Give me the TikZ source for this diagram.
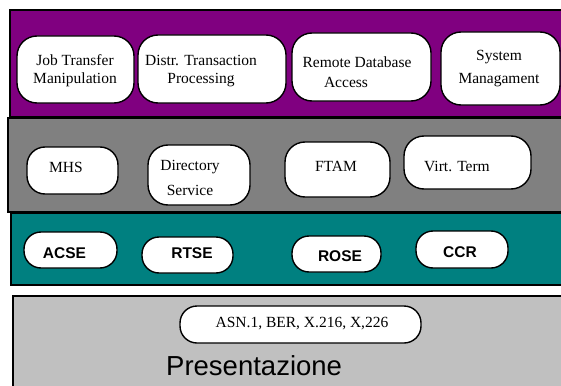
\documentclass[tikz,border=0pt]{standalone}
\usepackage{fontspec}
\setmainfont{Liberation Serif}
\setsansfont{Liberation Sans}
\definecolor{bandpurple}{HTML}{800080}
\definecolor{bandgray}{HTML}{808080}
\definecolor{bandteal}{HTML}{008080}
\definecolor{bandlight}{HTML}{C0C0C0}
\begin{document}
\begin{tikzpicture}[x=1pt,y=-1pt,
  band/.style={draw=black,line width=1.5pt},
  rbox/.style={draw=black,fill=white,line width=1.4pt,rounded corners=20pt,inner sep=0pt},
  pill/.style={draw=black,fill=white,line width=1.4pt,rounded corners=17pt,inner sep=0pt},
  serif/.style={inner sep=0pt,align=center,font=\fontsize{15.5}{18}\selectfont},
  sansb/.style={inner sep=0pt,font=\sffamily\bfseries\fontsize{15.5}{18}\selectfont}]
\useasboundingbox (0,0) rectangle (561,385);
\fill[white] (0,0) rectangle (561,385);

% protocol layers
\draw[band,fill=bandpurple] (10,10) rectangle (575,117);
\draw[band,fill=bandgray] (8,118) rectangle (575,212);
\draw[band,fill=bandteal] (11,213) rectangle (575,285);
\draw[band,fill=bandlight] (13,296) rectangle (575,400);

% application services
\node[rbox,minimum width=117pt,minimum height=67pt] (job) at (75.5,69.5) {};
\node[rbox,minimum width=148pt,minimum height=68pt] (dtp) at (212,69) {};
\node[rbox,minimum width=139pt,minimum height=68pt] (rda) at (361.5,67) {};
\node[rbox,minimum width=119pt,minimum height=73pt] (sm) at (500.5,68.5) {};
\node[serif] (jobt) at (75,71) {Job Transfer\\Manipulation};
\node[serif] (dtpt) at (201,71) {Distr. Transaction\\Processing};
\node[serif,font=\fontsize{15.5}{20}\selectfont] (rdat) at (357,72) {Remote Database\\Access\hspace*{22pt}};
\node[serif,font=\fontsize{15.5}{23}\selectfont] (smt) at (499,69) {System\\Managament};

% specific services
\node[rbox,rounded corners=18pt,minimum width=91pt,minimum height=47pt] (mhs) at (72.5,170.5) {};
\node[rbox,minimum width=102pt,minimum height=60pt] (ds) at (199,175) {};
\node[rbox,minimum width=105pt,minimum height=55pt] (ftam) at (337.5,169.5) {};
\node[rbox,minimum width=127pt,minimum height=53pt] (vt) at (467.5,162.5) {};
\node[serif] (mhst) at (66,167) {MHS};
\node[serif,font=\fontsize{15.5}{25}\selectfont] (dst) at (190,177.5) {Directory\\Service};
\node[serif] (ftamt) at (336,166) {FTAM};
\node[serif] (vtt) at (457,166) {Virt. Term};

% common service elements
\node[pill,minimum width=93pt,minimum height=36pt] (acse) at (70.5,250) {};
\node[pill,minimum width=91pt,minimum height=36pt] (rtse) at (187.5,255) {};
\node[pill,minimum width=89pt,minimum height=36pt] (rose) at (336.5,254) {};
\node[pill,minimum width=92pt,minimum height=37pt] (ccr) at (462,249.5) {};
\node[sansb] (acset) at (64.5,253) {ACSE};
\node[sansb] (rtset) at (192,253) {RTSE};
\node[sansb] (roset) at (340,256) {ROSE};
\node[sansb] (ccrt) at (460,252) {CCR};

% presentation layer
\node[pill,minimum width=241pt,minimum height=37pt] (asn) at (300.5,324.5) {};
\node[serif] (asnt) at (302,324) {ASN.1, BER, X.216, X,226};
\node[inner sep=0pt,anchor=base west,font=\sffamily\fontsize{27.5}{30}\selectfont] (pres) at (166,375) {Presentazione};
\end{tikzpicture}
\end{document}
